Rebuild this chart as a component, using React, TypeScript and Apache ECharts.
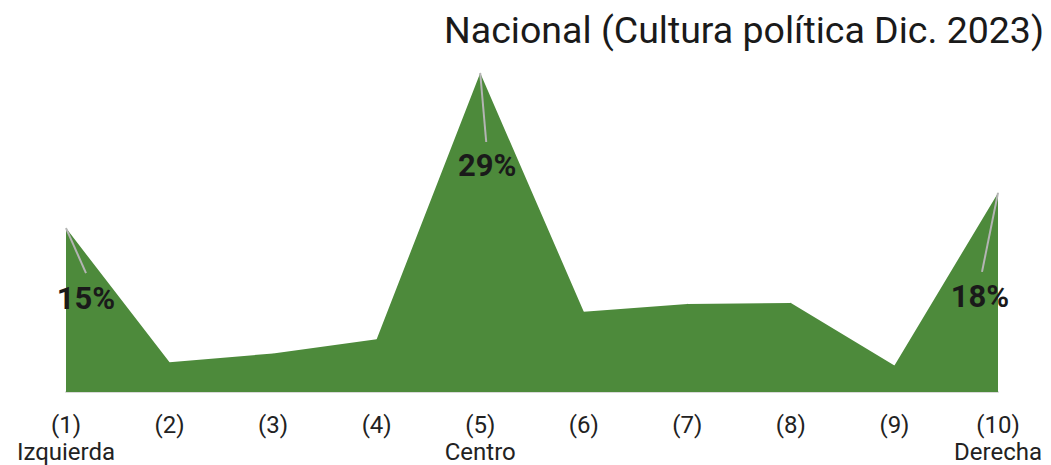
import React, { useEffect, useRef } from "react";
import * as echarts from "echarts";

const codes = ["(1)", "(2)", "(3)", "(4)", "(5)", "(6)", "(7)", "(8)", "(9)", "(10)"];
const names = ["Izquierda", "", "", "", "Centro", "", "", "", "", "Derecha"];
const values = [14.9, 2.7, 3.5, 4.8, 29.0, 7.3, 8.0, 8.1, 2.4, 18.1];
const labelTexts = ["15%", "", "", "", "29%", "", "", "", "", "18%"];
// label offsets and leader-line ends relative to the data point (px)
const labelOffsets: Record<number, [number, number]> = { 0: [20, 70], 4: [7, 92], 9: [-18, 104] };
const leaderEnds: Record<number, [number, number]> = { 0: [20, 45], 4: [6, 69], 9: [-16, 79] };

const GREEN = "#4d8a3b";

export default function App() {
  const ref = useRef<HTMLDivElement>(null);
  useEffect(() => {
    document.body.style.margin = "0";
    if (!ref.current) return;
    const chart = echarts.init(ref.current, null, { renderer: "svg" });
    const data = values.map((v, i) => {
      const item: any = { value: v };
      if (labelTexts[i]) {
        item.label = {
          show: true,
          position: "inside",
          offset: labelOffsets[i],
          formatter: labelTexts[i],
        };
      }
      return item;
    });
    chart.setOption({
      animation: false,
      textStyle: { fontFamily: "Roboto" },
      title: {
        text: "Nacional (Cultura política Dic. 2023)",
        right: 2,
        top: 6,
        textStyle: { fontFamily: "Roboto", fontSize: 37.5, fontWeight: "normal", color: "#1a1a1a" },
      },
      grid: { left: 66, right: 53, top: 73, bottom: 68 },
      xAxis: {
        type: "category",
        data: codes.map((c, i) => (names[i] ? c + "\n" + names[i] : c)),
        boundaryGap: false,
        axisLine: { show: true, lineStyle: { color: "#d9d9d9", width: 2 } },
        axisTick: { show: false },
        axisLabel: {
          interval: 0,
          margin: 19,
          fontFamily: "Roboto",
          fontSize: 24,
          lineHeight: 27,
          color: "#222",
        },
      },
      yAxis: { type: "value", min: 0, max: 29, show: false, splitLine: { show: false } },
      series: [
        {
          type: "line",
          data,
          symbol: "circle",
          symbolSize: 0.5,
          showSymbol: true,
          itemStyle: { color: GREEN },
          lineStyle: { width: 0, color: GREEN },
          areaStyle: { color: GREEN, opacity: 1 },
          label: {
            show: false,
            fontFamily: "Roboto",
            fontSize: 31,
            fontWeight: "bold",
            color: "#1a1a1a",
            align: "center",
            verticalAlign: "middle",
          },
        },
      ],
    });
    const lines: any[] = [];
    values.forEach((v, i) => {
      if (!leaderEnds[i]) return;
      const p = chart.convertToPixel({ gridIndex: 0 }, [i, v]) as number[];
      const e = leaderEnds[i];
      lines.push({
        type: "line",
        shape: { x1: p[0], y1: p[1], x2: p[0] + e[0], y2: p[1] + e[1] },
        style: { stroke: "#b4b4b4", lineWidth: 2 },
        z: 10,
      });
    });
    chart.setOption({ graphic: lines });
    return () => chart.dispose();
  }, []);
  return <div ref={ref} style={{ width: 1051, height: 465 }} />;
}
